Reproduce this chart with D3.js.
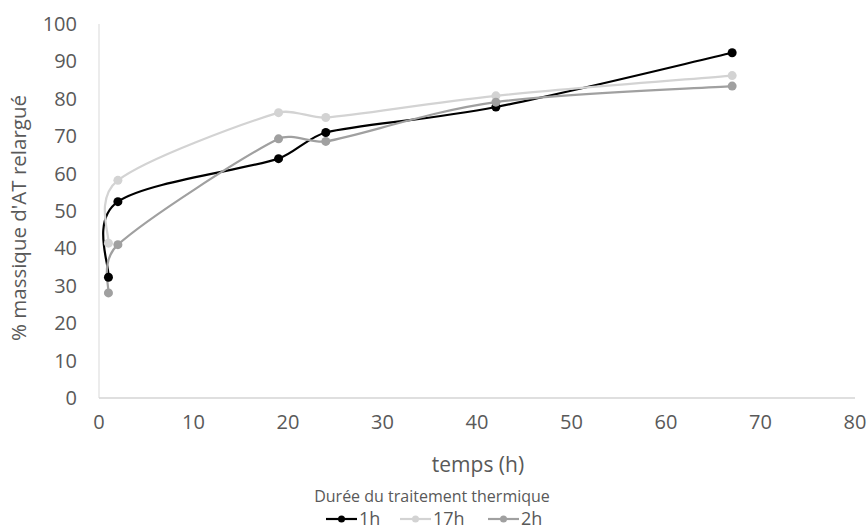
<!DOCTYPE html>
<html><head><meta charset="utf-8">
<script src="https://cdn.jsdelivr.net/npm/d3@7"></script>
<style>body{margin:0;background:#fff}svg{display:block}text{font-family:"Open Sans","Noto Sans",sans-serif;fill:#595959}</style>
</head><body><svg id="c" width="868" height="529"></svg>
<script>
const times = [1, 2, 19, 24, 42, 67];
const s1h = [32.3, 52.5, 64, 71, 77.8, 92.3];
const s17h = [41.4, 58.2, 76.3, 75, 80.8, 86.2];
const s2h = [28.1, 41, 69.3, 68.6, 79.1, 83.4];
const seriesNames = ["1h", "17h", "2h"];
const seriesColors = ["#000000", "#d3d3d3", "#a0a0a0"];
const xTicks = [0,10,20,30,40,50,60,70,80];
const yTicks = [0,10,20,30,40,50,60,70,80,90,100];

const svg = d3.select("#c");
const L=99,R=855,T=24,B=398;
const x = d3.scaleLinear().domain([0,80]).range([L,R]);
const y = d3.scaleLinear().domain([0,100]).range([B,T]);
const series = [s1h,s17h,s2h];

svg.append("line").attr("x1",L).attr("x2",R).attr("y1",B).attr("y2",B).attr("stroke","#bfbfbf").attr("stroke-width",1);
svg.append("line").attr("x1",L).attr("x2",L).attr("y1",T).attr("y2",B).attr("stroke","#d9d9d9").attr("stroke-width",1);

svg.append("g").selectAll("text").data(yTicks).join("text")
  .attr("x",77).attr("y",d=>y(d)).attr("dy","0.35em").attr("text-anchor","end")
  .attr("font-size",20).text(d=>d);
svg.append("g").selectAll("text").data(xTicks).join("text")
  .attr("x",d=>x(d)).attr("y",422).attr("dy","0.35em").attr("text-anchor","middle")
  .attr("font-size",20).text(d=>d);

svg.append("text").attr("x",478).attr("y",465).attr("dy","0.35em").attr("text-anchor","middle").attr("font-size",21).text("temps (h)");
svg.append("text").attr("transform",`translate(19,218) rotate(-90)`).attr("dy","0.35em").attr("text-anchor","middle").attr("font-size",20.5).text("% massique d'AT relargué");

// Excel-like smoothing: Catmull-Rom handles (neighbour difference / 6), clamped on short segments
function smoothPath(pts, c=0.6){
  const p = d3.path();
  const n = pts.length;
  const dist=(a,b)=>Math.hypot(b[0]-a[0],b[1]-a[1]);
  const tan = pts.map((pt,i)=>{
    const a = pts[Math.max(0,i-1)], b = pts[Math.min(n-1,i+1)];
    return [(b[0]-a[0])/6,(b[1]-a[1])/6];
  });
  p.moveTo(pts[0][0],pts[0][1]);
  for(let i=0;i<n-1;i++){
    const a=pts[i], b=pts[i+1], d=dist(a,b);
    const h1=Math.hypot(...tan[i]), h2=Math.hypot(...tan[i+1]);
    const s = (h1+h2) > d*c ? d*c/(h1+h2) : 1;
    p.bezierCurveTo(a[0]+tan[i][0]*s, a[1]+tan[i][1]*s, b[0]-tan[i+1][0]*s, b[1]-tan[i+1][1]*s, b[0], b[1]);
  }
  return p.toString();
}
series.forEach((s,i)=>{
  const pts = times.map((t,j)=>[x(t),y(s[j])]);
  svg.append("path").attr("d",smoothPath(pts)).attr("fill","none").attr("stroke",seriesColors[i]).attr("stroke-width",2.2);
});
series.forEach((s,i)=>{
  svg.append("g").selectAll("circle").data(times.map((t,j)=>[t,s[j]])).join("circle")
    .attr("cx",d=>x(d[0])).attr("cy",d=>y(d[1])).attr("r",4.5).attr("fill",seriesColors[i]);
});

svg.append("text").attr("x",432).attr("y",496).attr("dy","0.35em").attr("text-anchor","middle").attr("font-size",16).text("Durée du traitement thermique");
const lx=[326,400,488];
seriesNames.forEach((n,i)=>{
  const g=svg.append("g").attr("transform",`translate(${lx[i]},519)`);
  g.append("line").attr("x1",0).attr("x2",31).attr("stroke",seriesColors[i]).attr("stroke-width",2.2);
  g.append("circle").attr("cx",15.5).attr("r",3.5).attr("fill",seriesColors[i]);
  g.append("text").attr("x",33).attr("dy","0.35em").attr("font-size",18).text(n);
});
</script></body></html>
